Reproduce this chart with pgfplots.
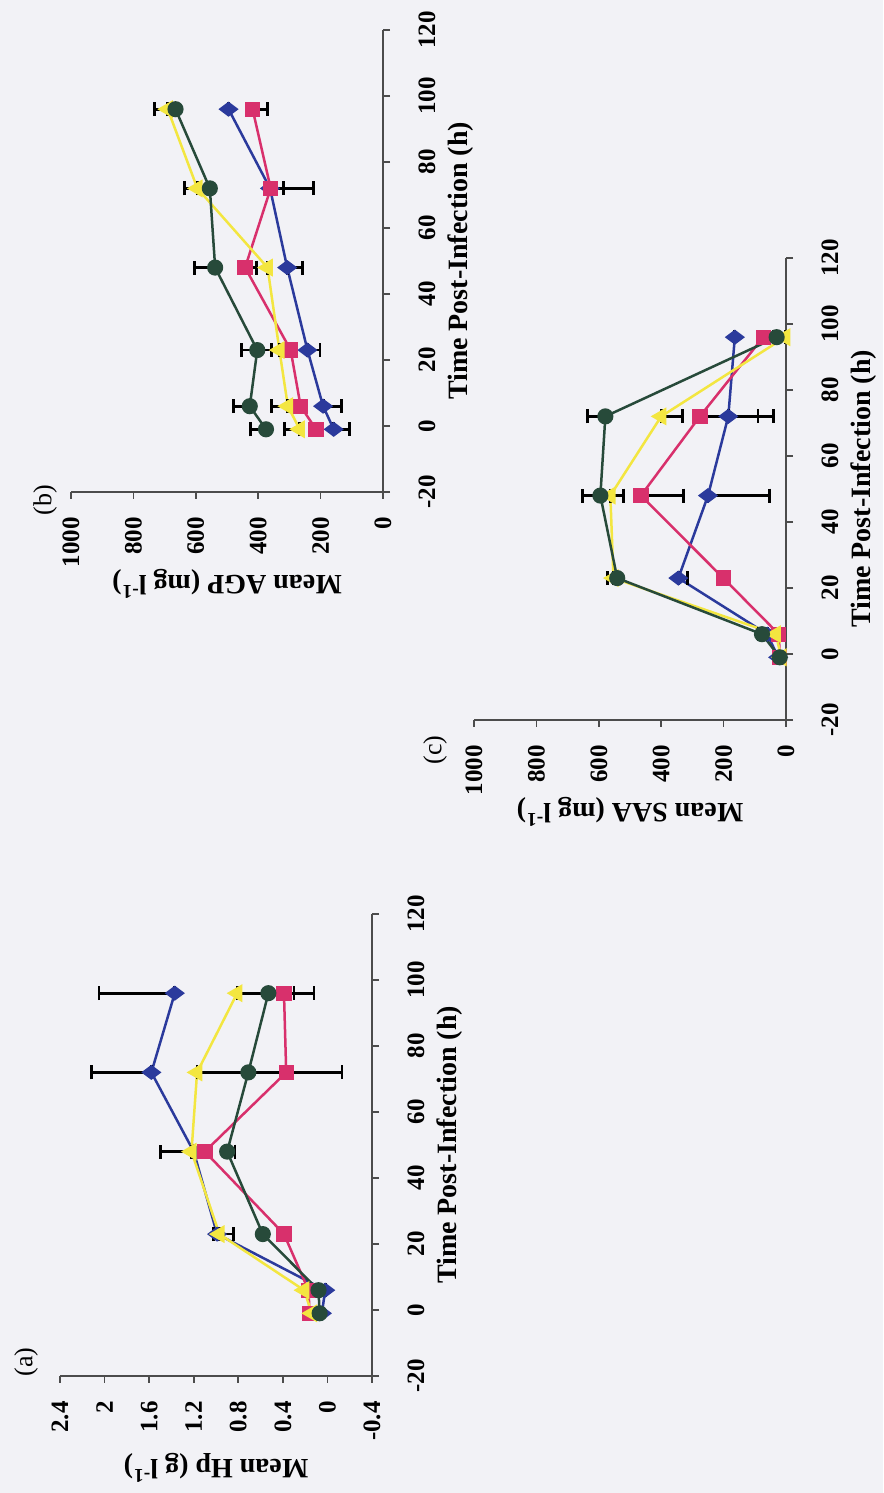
\documentclass[border=0pt]{standalone}
\usepackage{pgfplots}
\pgfplotsset{compat=1.18}
\usepackage{fontspec}
\setmainfont{Liberation Serif}
\definecolor{bgcol}{HTML}{F2F2F6}
\definecolor{cblue}{HTML}{2B3A9C}
\definecolor{cpink}{HTML}{D8306C}
\definecolor{cyel}{HTML}{F3E640}
\definecolor{cgrn}{HTML}{274A3A}
\pgfplotsset{
  accp/.style={
    scale only axis, width=231pt, height=156pt,
    axis lines=left, axis line style={-, draw=black!70, line width=0.8pt},
    tick align=outside, major tick length=3.5pt,
    tick style={draw=black!70, line width=0.8pt},
    xmin=-20, xmax=120, xtick={-20,0,20,40,60,80,100,120},
    xticklabels={-20,0,20,40,60,80,100,120},
    scaled ticks=false,
    tick label style={font=\fontsize{12.5}{14}\selectfont\bfseries, inner sep=0pt},
    xticklabel style={anchor=north, yshift=-14pt},
    yticklabel style={anchor=east, xshift=-9pt},
    every axis x label/.style={at={([yshift=-39pt]axis description cs:0.5,0)}, anchor=center, font=\fontsize{14}{16}\selectfont\bfseries},
    every axis y label/.style={at={([xshift=-46pt]axis description cs:0,0.5)}, rotate=90, anchor=center, font=\fontsize{14}{16}\selectfont\bfseries},
    xlabel={Time Post-Infection (h)},
    clip=false,
    error bars/y dir=both, error bars/y explicit,
    error bars/error mark options={rotate=90, mark size=3.5pt, line width=1.4pt, black},
    error bars/error bar style={line width=1.4pt, black},
  },
  sb/.style={draw=cblue, line width=1.25pt, mark=diamond*, mark size=4pt, mark options={fill=cblue, draw=cblue, solid}},
  sp/.style={draw=cpink, line width=1.25pt, mark=square*, mark size=3.2pt, mark options={fill=cpink, draw=cpink, solid}},
  sy/.style={draw=cyel, line width=1.25pt, mark=triangle*, mark size=4pt, mark options={fill=cyel, draw=cyel, solid}},
  sg/.style={draw=cgrn, line width=1.25pt, mark=*, mark size=3.4pt, mark options={fill=cgrn, draw=cgrn, solid}},
}
\begin{document}
\begin{tikzpicture}
\fill[bgcol] (0,0) rectangle (441.5pt,746.5pt);
\useasboundingbox (0,0) rectangle (441.5pt,746.5pt);
\begin{pgfinterruptboundingbox}
\begin{scope}[transform canvas={shift={(441.5pt,0pt)},rotate=90}]
% ---------------- (a) Hp
\begin{axis}[accp, at={(58.5pt,255.5pt)}, anchor=south west,
  ymin=-0.4, ymax=2.4, ytick={-0.4,0,0.4,0.8,1.2,1.6,2,2.4},
  yticklabels={-0.4,0,0.4,0.8,1.2,1.6,2,2.4},
  ylabel={Mean Hp (g l\textsuperscript{-1})}]
\addplot[sb] table[x=t,y=v,y error plus=ep,y error minus=em] {
t v ep em
-1 0.05 0 0
6 0.02 0 0
23 0.99 0.03 0
48 1.20 0.30 0
72 1.58 0.54 0
96 1.37 0.68 0
};
\addplot[sp] table[x=t,y=v,y error plus=ep,y error minus=em] {
t v ep em
-1 0.16 0 0
6 0.17 0 0
23 0.39 0 0.06
48 1.10 0 0
72 0.37 0 0.50
96 0.39 0 0.09
};
\addplot[sy] table[x=t,y=v,y error plus=ep,y error minus=em] {
t v ep em
-1 0.14 0 0
6 0.21 0 0
23 0.97 0 0.13
48 1.22 0 0
72 1.17 0 0.44
96 0.81 0 0.27
};
\addplot[sg] table[x=t,y=v,y error plus=ep,y error minus=em] {
t v ep em
-1 0.07 0 0
6 0.08 0 0
23 0.58 0 0
48 0.90 0 0.07
72 0.71 0 0.40
96 0.53 0 0.41
};
\end{axis}
% ---------------- (b) AGP
\begin{axis}[accp, at={(500.5pt,250pt)}, anchor=south west,
  ymin=0, ymax=1000, ytick={0,200,400,600,800,1000},
  yticklabels={0,200,400,600,800,1000},
  ylabel={Mean AGP (mg l\textsuperscript{-1})}]
\addplot[sb] table[x=t,y=v,y error plus=ep,y error minus=em] {
t v ep em
-1 158 0 50
6 192 0 60
23 242 0 40
48 307 0 50
72 362 0 140
96 495 0 0
};
\addplot[sp] table[x=t,y=v,y error plus=ep,y error minus=em] {
t v ep em
-1 215 0 0
6 264 0 0
23 296 0 0
48 442 0 36
72 360 0 40
96 418 0 48
};
\addplot[sy] table[x=t,y=v,y error plus=ep,y error minus=em] {
t v ep em
-1 267 50 0
6 305 52 0
23 332 0 0
48 370 0 0
72 595 40 0
96 690 42 0
};
\addplot[sg] table[x=t,y=v,y error plus=ep,y error minus=em] {
t v ep em
-1 375 50 0
6 427 52 0
23 403 50 45
48 538 65 0
72 555 0 0
96 665 0 0
};
\end{axis}
% ---------------- (c) SAA
\begin{axis}[accp, at={(386.5pt,48.5pt)}, anchor=south west,
  ymin=0, ymax=1000, ytick={0,200,400,600,800,1000},
  yticklabels={0,200,400,600,800,1000},
  ylabel={Mean SAA (mg l\textsuperscript{-1})}]
\addplot[sb] table[x=t,y=v,y error plus=ep,y error minus=em] {
t v ep em
-1 25 0 0
6 60 0 0
23 345 0 29
48 250 0 198
72 185 0 144
96 164 0 0
};
\addplot[sp] table[x=t,y=v,y error plus=ep,y error minus=em] {
t v ep em
-1 20 0 0
6 23 0 0
23 201 0 0
48 465 0 137
72 276 0 186
96 73 0 32
};
\addplot[sy] table[x=t,y=v,y error plus=ep,y error minus=em] {
t v ep em
-1 15 0 0
6 33 0 0
23 553 20 0
48 563 0 41
72 400 0 67
96 3 0 0
};
\addplot[sg] table[x=t,y=v,y error plus=ep,y error minus=em] {
t v ep em
-1 20 0 0
6 77 10 10
23 541 0 0
48 595 58 0
72 579 58 0
96 30 0 0
};
\end{axis}
\node[font=\fontsize{13}{15}\selectfont] at (65.5pt,428.5pt) {(a)};
\node[font=\fontsize{13}{15}\selectfont] at (496.5pt,419pt) {(b)};
\node[font=\fontsize{13}{15}\selectfont] at (371.5pt,224pt) {(c)};
\end{scope}
\end{pgfinterruptboundingbox}
\end{tikzpicture}
\end{document}
